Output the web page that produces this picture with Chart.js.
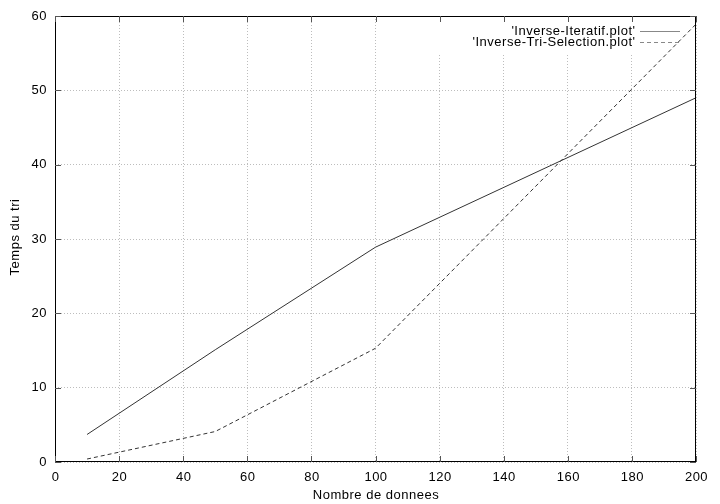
<!DOCTYPE html>
<html>
<head>
<meta charset="utf-8">
<script src="https://cdn.jsdelivr.net/npm/chart.js@4/dist/chart.umd.min.js"></script>
<style>
  html, body { margin: 0; padding: 0; background: #fff; }
  #wrap { width: 720px; height: 504px; }
</style>
</head>
<body>
<div id="wrap"><canvas id="chart" width="720" height="504"></canvas></div>
<script>
// data
const tailles = [10, 50, 100, 200];
const iteratif = [3.7, 15.1, 28.9, 49.0];
const triSelection = [0.4, 4.1, 15.3, 58.9];
const xTicks = [0, 20, 40, 60, 80, 100, 120, 140, 160, 180, 200];
const yTicks = [0, 10, 20, 30, 40, 50, 60];

const FONT = '13px "Liberation Sans", Arial, sans-serif';
const LINE = '#333333';

const toPoints = (xs, ys) => xs.map((x, i) => ({ x: x, y: ys[i] }));

// gnuplot-like frame, inward ticks, tick labels, key and axis labels
const gnuFrame = {
  id: 'gnuFrame',
  beforeDatasetsDraw(chart) {
    // blank the grid behind the key
    const { ctx, chartArea: a } = chart;
    ctx.save();
    ctx.fillStyle = '#fff';
    ctx.fillRect(432, a.top + 1, a.right - 432 - 1, 38);
    ctx.restore();
  },
  afterDraw(chart) {
    const { ctx, chartArea: a, scales } = chart;
    ctx.save();
    ctx.strokeStyle = '#000';
    ctx.lineWidth = 1;
    ctx.strokeRect(a.left + 0.5, a.top + 0.5, a.right - a.left - 1, a.bottom - a.top - 1);

    ctx.strokeStyle = '#555';
    ctx.beginPath();
    xTicks.forEach(v => {
      const px = Math.round(scales.x.getPixelForValue(v)) + 0.5;
      ctx.moveTo(px, a.bottom); ctx.lineTo(px, a.bottom - 6);
      ctx.moveTo(px, a.top); ctx.lineTo(px, a.top + 6);
    });
    yTicks.forEach(v => {
      const py = Math.round(scales.y.getPixelForValue(v)) + 0.5;
      ctx.moveTo(a.left, py); ctx.lineTo(a.left + 6, py);
      ctx.moveTo(a.right, py); ctx.lineTo(a.right - 6, py);
    });
    ctx.stroke();

    ctx.font = FONT;
    ctx.letterSpacing = '0.5px';
    ctx.fillStyle = '#000';
    ctx.textBaseline = 'middle';

    // tick labels
    ctx.textAlign = 'center';
    xTicks.forEach(v => {
      ctx.fillText(String(v), scales.x.getPixelForValue(v) + 0.5, a.bottom + 15);
    });
    ctx.textAlign = 'right';
    yTicks.forEach(v => {
      ctx.fillText(String(v), a.left - 8, scales.y.getPixelForValue(v));
    });

    // key
    chart.data.datasets.forEach((ds, i) => {
      const y = a.top + 15 + i * 11;
      ctx.fillText("'" + ds.label + "'", 635.5, y);
      ctx.strokeStyle = '#888';
      ctx.setLineDash(ds.borderDash || []);
      ctx.beginPath();
      ctx.moveTo(640, Math.round(y) + 0.5);
      ctx.lineTo(680, Math.round(y) + 0.5);
      ctx.stroke();
    });
    ctx.setLineDash([]);

    // axis titles
    ctx.textAlign = 'center';
    ctx.fillText('Nombre de donnees', 376, 495);
    ctx.translate(15, 237);
    ctx.rotate(-Math.PI / 2);
    ctx.fillText('Temps du tri', 0, 0);
    ctx.restore();
  }
};

new Chart(document.getElementById('chart'), {
  type: 'line',
  data: {
    datasets: [
      {
        label: 'Inverse-Iteratif.plot',
        data: toPoints(tailles, iteratif),
        borderColor: LINE,
        borderWidth: 1,
        pointRadius: 0,
        tension: 0,
        fill: false
      },
      {
        label: 'Inverse-Tri-Selection.plot',
        data: toPoints(tailles, triSelection),
        borderColor: LINE,
        borderWidth: 1,
        borderDash: [4, 3],
        pointRadius: 0,
        tension: 0,
        fill: false
      }
    ]
  },
  plugins: [gnuFrame],
  options: {
    responsive: false,
    animation: false,
    layout: { padding: { left: 0, right: 24, top: 16, bottom: 0 } },
    plugins: {
      legend: { display: false },
      tooltip: { enabled: false }
    },
    scales: {
      x: {
        type: 'linear',
        min: 0,
        max: 200,
        afterFit: s => { s.height = 42; },
        afterBuildTicks: s => { s.ticks = xTicks.map(v => ({ value: v })); },
        ticks: { display: false },
        grid: { color: '#bdbdbd', lineWidth: 1, drawTicks: false },
        border: { display: false, dash: [1, 2] }
      },
      y: {
        min: 0,
        max: 60,
        afterFit: s => { s.width = 55; },
        afterBuildTicks: s => { s.ticks = yTicks.map(v => ({ value: v })); },
        ticks: { display: false },
        grid: { color: '#bdbdbd', lineWidth: 1, drawTicks: false },
        border: { display: false, dash: [1, 2] }
      }
    }
  }
});
</script>
</body>
</html>
